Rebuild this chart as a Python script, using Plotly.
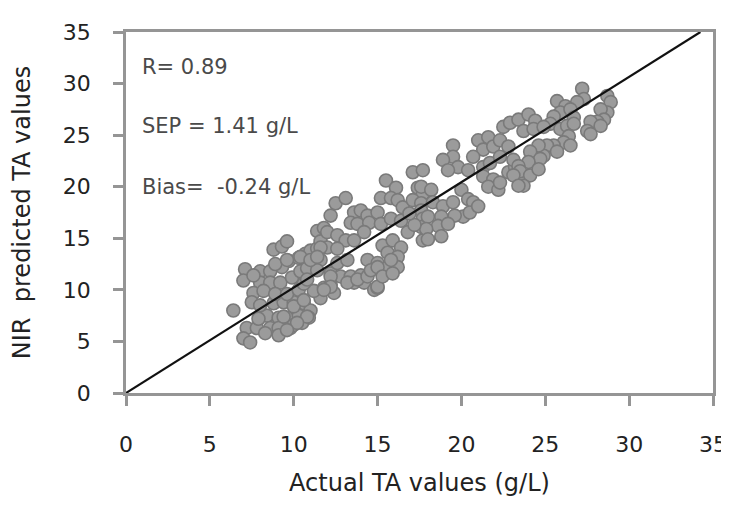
import plotly.graph_objects as go

# Actual TA values (g/L) and NIR predicted TA values
actual = [
    11.4, 11.8, 8.8, 9.3, 9.6, 9.7, 10.3, 10.7, 11.0, 11.4, 11.6, 7.1, 7.0,
    8.0, 8.6, 8.0, 8.6, 9.2, 9.9, 10.4, 10.8, 7.6, 8.2, 7.5, 6.4,
    8.8, 9.4, 10.0, 10.6, 11.0, 11.6, 11.2, 11.8, 8.4, 9.1, 9.6, 10.3, 10.9,
    7.2, 7.8, 8.6, 9.1, 9.8, 7.0, 7.4, 8.3, 9.1,
    8.0, 8.9, 9.6, 10.3, 10.6, 9.3, 8.9, 7.6, 7.9, 10.0, 10.5,
    17.1, 15.5, 16.1, 17.4, 17.7, 15.2, 15.8, 16.2, 16.5, 17.1, 17.6,
    12.5, 13.1, 12.2, 13.6, 14.0, 14.4, 15.0, 13.4, 13.8, 14.5, 15.2, 15.8, 16.4,
    12.0, 12.6, 13.1, 13.6, 14.2, 12.0, 12.6, 17.6, 17.7, 17.6, 17.7,
    15.3, 15.9, 16.4, 15.6, 16.2, 14.4, 15.0, 15.6, 16.2,
    12.2, 12.8, 13.4, 14.0, 12.2, 12.4, 13.6, 14.2, 14.8, 15.0, 11.6, 11.6,
    9.6, 10.8, 11.4, 12.2, 12.6, 13.2, 13.2, 13.8, 14.4, 14.6, 15.0, 15.0, 15.3, 15.9, 15.8,
    9.4, 10.0, 10.6, 10.8, 10.2, 9.6, 12.2, 11.8, 10.4, 11.0, 11.4,
    19.5, 19.5, 18.9, 19.8, 19.2, 21.0, 21.6, 21.3, 21.9, 22.3, 22.5, 22.9,
    20.7, 20.4, 21.3, 21.7, 22.3, 22.8, 21.3, 21.9, 21.6, 22.2, 22.3, 22.8, 23.2, 23.1, 23.4,
    20.0, 20.4, 20.1, 20.7, 17.7, 17.6, 18.2, 18.3, 18.9, 19.5, 18.0, 18.8, 18.6, 17.9, 18.8, 18.0,
    16.8, 17.2, 16.9, 19.6, 20.5, 19.2, 21.0,
    27.2, 27.3, 26.9, 25.7, 26.2, 25.9, 26.5, 26.7, 25.5, 25.3,
    28.7, 28.9, 28.7, 28.3, 28.5, 28.1, 27.7, 27.5, 27.7, 28.3,
    23.4, 24.0, 24.4, 23.7, 24.3, 24.9, 25.9, 26.3, 26.7, 26.4, 26.1, 26.5, 25.5, 25.1, 24.9, 25.7,
    24.6, 24.1, 24.7, 24.0, 23.4, 23.5, 23.1, 24.1, 23.7, 23.4, 24.6,
]
predicted = [
    15.7, 16.0, 13.9, 14.2, 14.7, 12.8, 13.1, 13.5, 13.8, 14.0, 14.7, 12.0, 10.9,
    11.8, 11.8, 10.7, 10.7, 10.7, 11.2, 11.8, 12.1, 9.7, 9.9, 8.8, 8.0,
    8.7, 8.8, 8.8, 8.7, 8.0, 9.2, 9.9, 10.2, 7.5, 7.3, 7.3, 7.5, 7.3,
    6.3, 6.3, 6.3, 6.3, 6.3, 5.3, 4.9, 5.8, 5.6,
    8.5, 9.6, 9.6, 10.0, 10.6, 12.2, 12.5, 11.4, 7.2, 6.6, 6.8,
    21.4, 20.6, 19.9, 19.9, 19.3, 18.9, 18.9, 18.7, 18.0, 18.7, 18.4,
    18.4, 18.9, 17.2, 17.5, 17.7, 17.2, 17.5, 16.5, 16.4, 16.5, 16.4, 16.9, 16.7,
    15.6, 15.3, 14.8, 14.8, 15.6, 14.1, 14.0, 17.7, 16.9, 16.1, 14.8,
    14.3, 14.8, 14.1, 13.6, 13.2, 12.9, 12.6, 12.2, 12.2,
    11.6, 11.3, 11.3, 11.4, 10.5, 9.7, 10.7, 10.7, 10.0, 10.2, 12.9, 14.1,
    12.9, 11.0, 11.9, 11.3, 12.6, 12.9, 10.7, 11.0, 11.3, 11.9, 12.2, 10.3, 11.3, 11.6, 12.9,
    7.4, 8.4, 9.0, 7.4, 6.8, 6.1, 10.3, 10.0, 13.2, 12.9, 13.2,
    24.0, 22.9, 22.6, 21.9, 21.6, 24.5, 24.8, 23.6, 23.9, 24.5, 25.8, 26.2,
    22.9, 21.6, 21.9, 22.3, 22.9, 23.9, 21.0, 20.7, 20.0, 19.7, 20.4, 21.4, 21.9, 22.6, 20.9,
    19.7, 18.8, 17.1, 18.5, 21.6, 20.0, 19.7, 18.5, 18.1, 18.5, 17.1, 17.1, 16.2, 15.9, 15.2, 14.9,
    15.6, 16.3, 17.4, 17.2, 17.5, 16.4, 18.1,
    29.5, 28.5, 28.2, 28.3, 27.8, 27.2, 27.5, 26.7, 26.8, 26.1,
    28.8, 28.2, 27.2, 27.5, 26.5, 26.3, 26.3, 25.4, 25.1, 25.9,
    26.5, 27.0, 26.4, 25.4, 25.6, 25.8, 25.6, 25.9, 26.1, 24.9, 24.3, 24.0, 24.0, 24.0, 23.0, 23.4,
    24.0, 23.4, 22.7, 22.4, 22.0, 21.5, 21.1, 21.1, 20.1, 20.1, 21.7,
]

# 1:1 reference line end points
line_x = [0, 34.25]
line_y = [0, 35]

tick_vals = [0, 5, 10, 15, 20, 25, 30, 35]

stats_text = ["R= 0.89", "SEP = 1.41 g/L", "Bias=\u00a0 -0.24 g/L"]
stats_y = [31.6, 25.9, 20.0]

FONT = "DejaVu Sans"
AX = "#959595"

fig = go.Figure()
fig.add_trace(go.Scatter(
    x=actual, y=predicted, mode="markers",
    marker=dict(size=13, color="#9b9b9b", line=dict(color="#7a7a7a", width=1.6)),
    showlegend=False, hoverinfo="skip",
))
fig.add_trace(go.Scatter(
    x=line_x, y=line_y, mode="lines",
    line=dict(color="#111111", width=2.2),
    showlegend=False, hoverinfo="skip",
))

for t, yv in zip(stats_text, stats_y):
    fig.add_annotation(x=0.85, y=yv, xref="x", yref="y", text=t, showarrow=False,
                       xanchor="left", yanchor="middle",
                       font=dict(family=FONT, size=21, color="#4a4a4a"))

axis_common = dict(
    range=[0, 35], tickvals=tick_vals, ticks="outside", ticklen=10, tickwidth=2.5,
    tickcolor=AX, showline=True, linecolor=AX, linewidth=2.5, mirror=True,
    showgrid=False, zeroline=False, automargin=False,
    tickfont=dict(family=FONT, size=22, color="#222222"),
)

# the page body has an 8 px margin, so the figure is offset by 8 px in the window
fig.update_layout(
    width=721, height=489,
    margin=dict(l=118, r=16, t=24, b=104),
    paper_bgcolor="white", plot_bgcolor="white",
    showlegend=False,
    xaxis=dict(**axis_common, ticklabelstandoff=20, ticklabeloverflow="allow",
               title=dict(text="Actual TA values (g/L)",
                          font=dict(family=FONT, size=24, color="#222222"), standoff=22)),
    yaxis=dict(**axis_common, ticklabelstandoff=18,
               title=dict(text="NIR\u00a0 predicted TA values",
                          font=dict(family=FONT, size=24, color="#222222"), standoff=27)),
)

fig.write_html("out.html")
